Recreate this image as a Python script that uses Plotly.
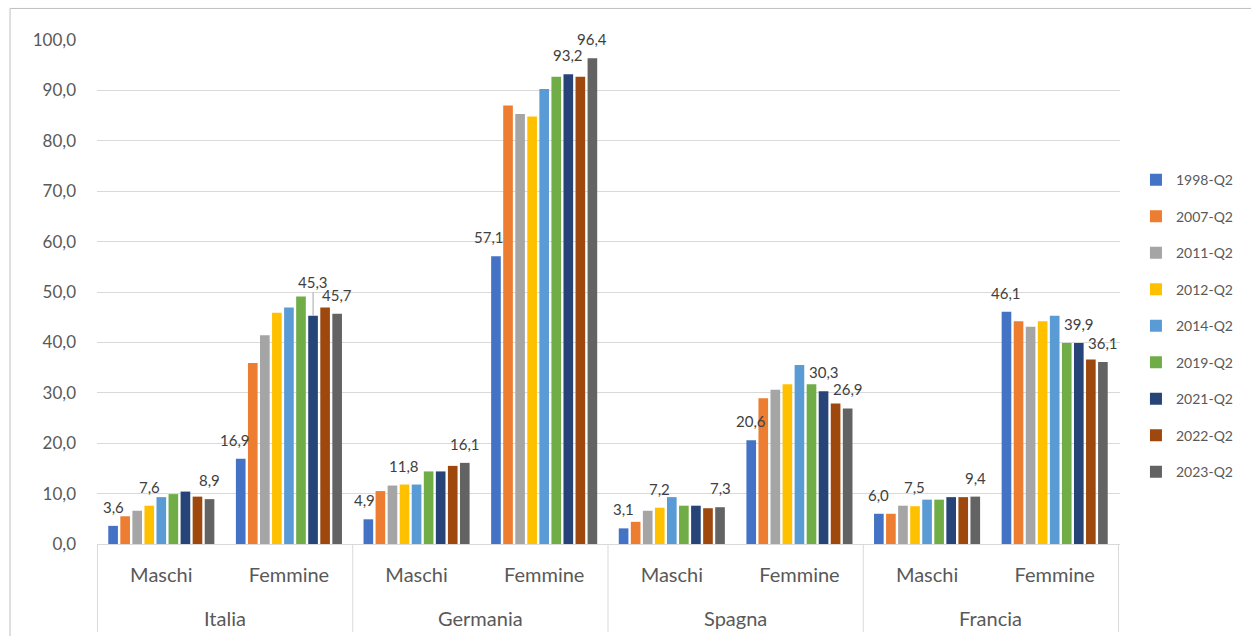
import plotly.graph_objects as go

# Categories: country (outer level) and sex (inner level)
countries = ["Italia", "Germania", "Spagna", "Francia"]
sexes = ["Maschi", "Femmine"]

# Survey quarters shown as separate series
years = ["1998-Q2", "2007-Q2", "2011-Q2", "2012-Q2", "2014-Q2",
         "2019-Q2", "2021-Q2", "2022-Q2", "2023-Q2"]

# Values in order: Italia M/F, Germania M/F, Spagna M/F, Francia M/F
v1998 = [3.6, 16.9, 4.9, 57.1, 3.1, 20.6, 6.0, 46.1]
v2007 = [5.5, 35.9, 10.5, 87.0, 4.4, 28.9, 6.0, 44.2]
v2011 = [6.6, 41.4, 11.6, 85.3, 6.6, 30.6, 7.6, 43.1]
v2012 = [7.6, 45.9, 11.8, 84.8, 7.2, 31.7, 7.5, 44.2]
v2014 = [9.3, 46.9, 11.8, 90.3, 9.3, 35.5, 8.8, 45.3]
v2019 = [9.9, 49.1, 14.4, 92.7, 7.6, 31.7, 8.8, 39.9]
v2021 = [10.4, 45.3, 14.4, 93.2, 7.6, 30.3, 9.3, 39.9]
v2022 = [9.4, 46.9, 15.5, 92.7, 7.1, 27.9, 9.3, 36.6]
v2023 = [8.9, 45.7, 16.1, 96.4, 7.3, 26.9, 9.4, 36.1]

series = [v1998, v2007, v2011, v2012, v2014, v2019, v2021, v2022, v2023]
colors = ["#4472C4", "#ED7D31", "#A5A5A5", "#FFC000", "#5B9BD5",
          "#70AD47", "#264478", "#9E480E", "#636363"]

# Which points of each series carry a value label
label_all = [True] * 8
label_m = [True, False] * 4
label_f = [False, True] * 4
shown = {"1998-Q2": label_all, "2012-Q2": label_m,
         "2021-Q2": label_f, "2023-Q2": label_all}
# labels nudged sideways (px) so they clear a taller neighbouring bar
nudge = {("1998-Q2", 1): -6, ("1998-Q2", 2): -4, ("1998-Q2", 3): -7}
# labels lifted with a leader line (px above the bar top)
lifted = {("2021-Q2", 1): 34}

xcat = [f"{c} {s}" for c in countries for s in sexes]
xtext = [s for _ in countries for s in sexes]

FONT = "Lato"
LABEL_FONT = dict(family=FONT, size=15, color="#404040")
W, H = 1251, 636
M = dict(l=97, r=131, t=40, b=92)
BARGAP, GROUPGAP = 0.15, 0.2

fig = go.Figure()
for name, vals, col in zip(years, series, colors):
    fig.add_trace(go.Bar(
        x=xcat, y=vals, name=name, legendgroup=name,
        marker=dict(color=col, line=dict(width=0)),
        hoverinfo="skip",
    ))

# Value labels, placed over their own bar within each cluster
cat_px = (W - M["l"] - M["r"]) / len(xcat)
slot_px = cat_px * (1 - BARGAP) / len(years)
for k, (name, vals) in enumerate(zip(years, series)):
    mask = shown.get(name)
    if not mask:
        continue
    for i, (v, m) in enumerate(zip(vals, mask)):
        if not m:
            continue
        dx = (k - (len(years) - 1) / 2) * slot_px
        txt = f"{v:.1f}".replace(".", ",")
        if (name, i) in lifted:
            fig.add_annotation(
                x=i, y=v, xref="x", yref="y", xshift=dx,
                text=txt, showarrow=True, arrowhead=0, arrowwidth=1,
                arrowcolor="#A6A6A6", ax=0, ay=-lifted[(name, i)], standoff=0,
                font=LABEL_FONT)
        else:
            fig.add_annotation(
                x=i, y=v, xref="x", yref="y", xshift=dx + nudge.get((name, i), 0),
                yshift=8, yanchor="bottom", text=txt, showarrow=False,
                font=LABEL_FONT)

# Country labels under the sex labels
ph = H - M["t"] - M["b"]
for j, c in enumerate(countries):
    fig.add_annotation(x=2 * j + 0.5, y=-(618 - (H - M["b"])) / ph, xref="x", yref="paper",
                       text=c, showarrow=False, yanchor="middle",
                       font=dict(family=FONT, size=20, color="#595959"))

# Dividers between countries
for j in range(len(countries) + 1):
    fig.add_shape(type="line", xref="x", yref="paper", x0=2 * j - 0.5, x1=2 * j - 0.5,
                  y0=0, y1=-(632 - (H - M["b"])) / ph,
                  line=dict(color="#D9D9D9", width=1))

# Chart-area border (top and left edges)
for x0, y0, x1, y1 in [(-0.085, -0.3, -0.085, 1.0626), (-0.085, 1.0626, 1.3, 1.0626)]:
    fig.add_shape(type="line", xref="paper", yref="paper", x0=x0, y0=y0, x1=x1, y1=y1,
                  line=dict(color="#BFBFBF", width=1))

fig.update_layout(
    width=W, height=H, margin=M,
    paper_bgcolor="white", plot_bgcolor="white",
    separators=",.",
    barmode="group", bargap=BARGAP, bargroupgap=GROUPGAP,
    font=dict(family=FONT, color="#595959"),
    showlegend=True,
    legend=dict(x=1.0156, xanchor="left", y=0.432, yanchor="middle",
                font=dict(family=FONT, size=14, color="#595959"),
                tracegroupgap=15.3, bgcolor="rgba(0,0,0,0)"),
)
fig.update_yaxes(range=[0, 100], dtick=10, tickformat=".1f",
                 showgrid=True, gridcolor="#D9D9D9", gridwidth=1,
                 zeroline=False, showline=False, ticks="",
                 ticklabelstandoff=20,
                 tickfont=dict(family=FONT, size=17, color="#595959"))
fig.update_xaxes(type="category", tickvals=xcat, ticktext=xtext,
                 showline=True, linecolor="#D9D9D9", linewidth=1,
                 showgrid=False, ticks="", ticklabelstandoff=13,
                 tickfont=dict(family=FONT, size=20, color="#595959"))

fig.write_html("out.html")
